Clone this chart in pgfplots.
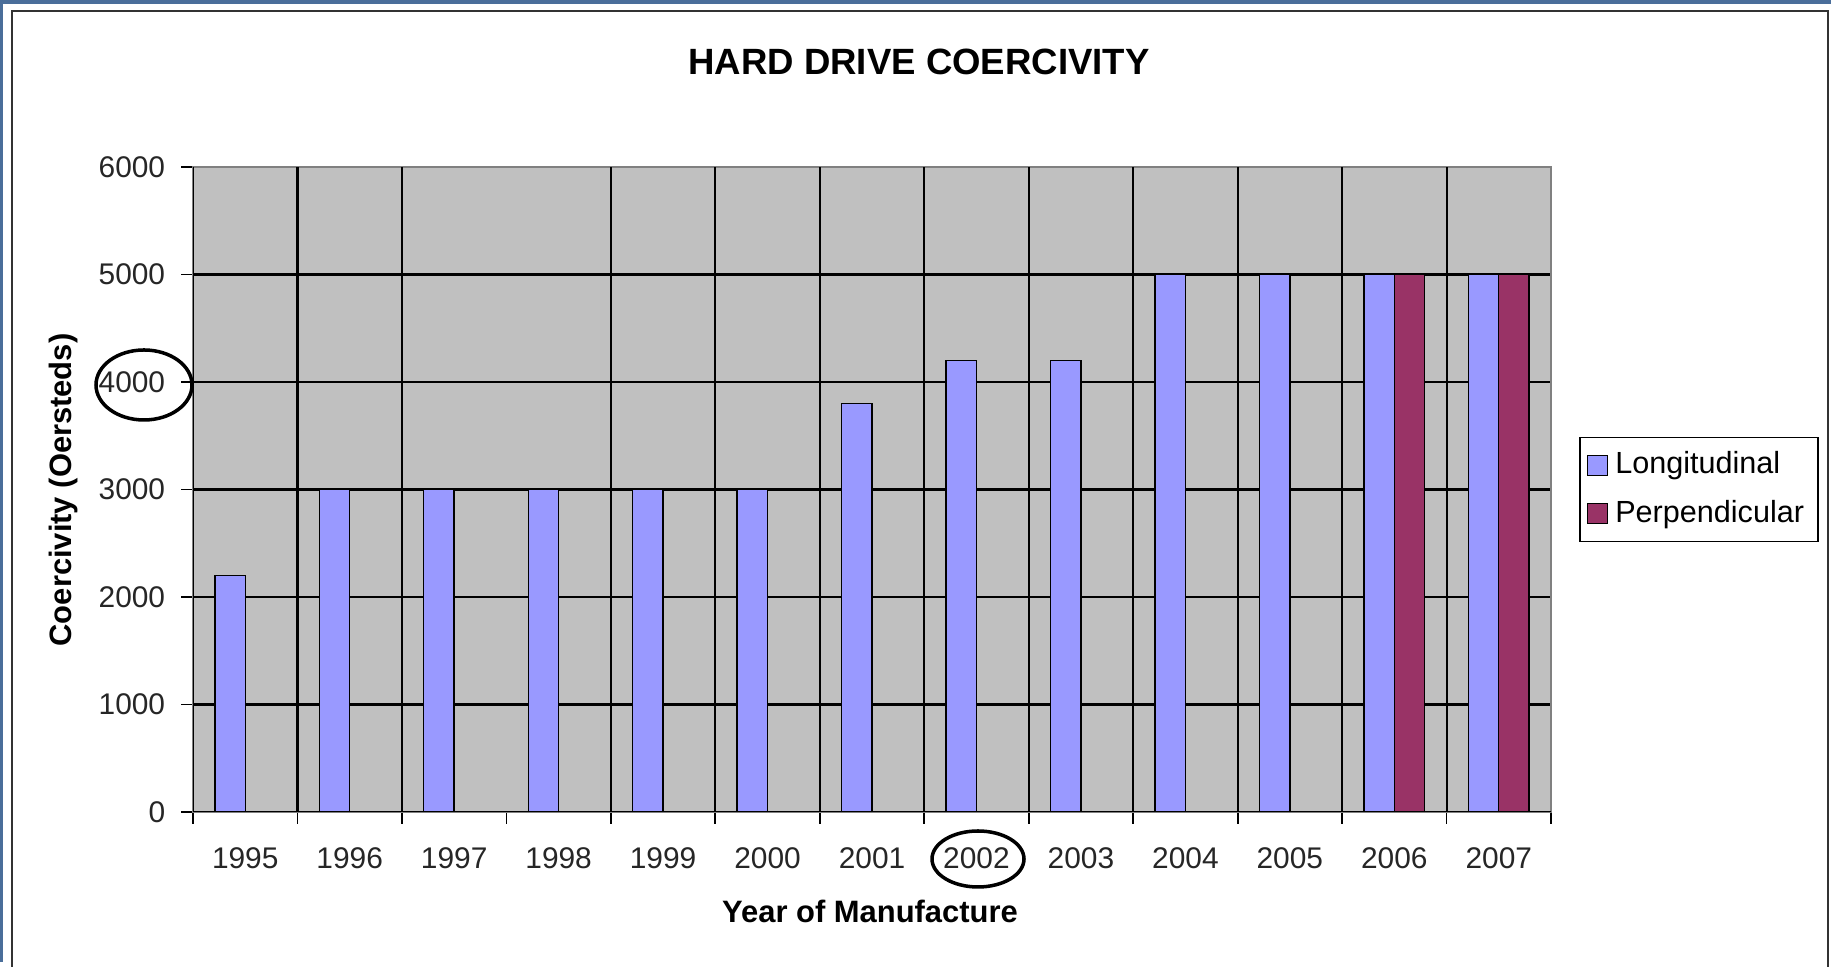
\documentclass[border=0pt]{standalone}
\usepackage{pgfplots}
\pgfplotsset{compat=1.18}
\usepackage{fontspec}
\setmainfont{Liberation Sans}

\definecolor{longi}{HTML}{9999FF}
\definecolor{perp}{HTML}{993366}
\definecolor{plotgray}{HTML}{C0C0C0}
\definecolor{bordergray}{HTML}{808080}
\definecolor{winblue}{HTML}{4A6E9A}

\begin{document}
\begin{tikzpicture}[x=1mm,y=1mm]
  % page and frame
  \fill[winblue] (0,0) rectangle (183.1,96.2);
  \fill[white] (0.3,0) rectangle (183.1,95.8);
  \draw[black!80, line width=0.25mm] (1.2,-0.5) -- (1.2,95.1) -- (182.8,95.1) -- (182.8,-0.5);

  \node[font=\bfseries\fontsize{10.4}{12}\selectfont] at (91.9,90.0) {HARD DRIVE COERCIVITY};

  \begin{axis}[
    at={(19.3mm,15.0mm)}, anchor=south west,
    scale only axis,
    width=135.8mm, height=64.5mm,
    xmin=-0.5, xmax=12.5,
    ymin=0, ymax=6000,
    ybar=0pt, bar width=3.04mm,
    axis background/.style={fill=plotgray},
    axis line style={draw=bordergray, line width=0.5pt},
    xtick pos=bottom, ytick pos=left,
    tick align=outside,
    major tick length=3.4pt,
    minor tick length=3.4pt,
    tick style={black, line width=0.5pt},
    ytick={0,1000,2000,3000,4000,5000,6000},
    ymajorgrids,
    major grid style={black, line width=0.6pt},
    xtick={0,1,2,3,4,5,6,7,8,9,10,11,12},
    xticklabels={1995,1996,1997,1998,1999,2000,2001,2002,2003,2004,2005,2006,2007},
    major x tick style={draw=none},
    minor xtick={-0.5,0.5,1.5,2.5,3.5,4.5,5.5,6.5,7.5,8.5,9.5,10.5,11.5,12.5},
    extra x ticks={0.5,1.5,3.5,4.5,5.5,6.5,7.5,8.5,9.5,10.5,11.5},
    extra x tick labels={},
    extra x tick style={grid=major, major x tick style={draw=none}},
    /pgf/number format/assume math mode=true,
    /pgf/number format/1000 sep={},
    tick label style={font=\fontsize{8.5}{10}\selectfont, text=black!85},
    xticklabel style={yshift=-3.3pt},
    yticklabel style={xshift=-1pt},
    legend style={at={(1.0206,0.5)}, anchor=west, draw=black, line width=0.5pt,
      font=\fontsize{8.7}{10}\selectfont, row sep=2pt, inner xsep=2pt, inner ysep=2pt,
      cells={anchor=west}},
    legend image code/.code={\draw[#1, line width=0.4pt] (0mm,-1mm) rectangle (2mm,1mm);},
  ]
    \addplot[fill=longi, draw=black, line width=0.4pt] coordinates {
      (0,2200) (1,3000) (2,3000) (3,3000) (4,3000) (5,3000) (6,3800)
      (7,4200) (8,4200) (9,5000) (10,5000) (11,5000) (12,5000)};
    \addplot[fill=perp, draw=black, line width=0.4pt] coordinates {
      (11,5000) (12,5000)};
    \legend{Longitudinal, Perpendicular}
    \draw[black, line width=0.6pt] (axis cs:-0.5,6000) -- (axis cs:-0.5,0) -- (axis cs:12.5,0);
  \end{axis}

  \node[font=\bfseries\fontsize{8.8}{10}\selectfont, rotate=90] at (6.4,47.2) {Coercivity (Oersteds)};
  \node[font=\bfseries\fontsize{8.8}{10}\selectfont] at (87.0,5.1) {Year of Manufacture};

  % hand-drawn circles
  \draw[black, line width=1pt] (14.4,57.7) ellipse (4.8 and 3.5);
  \draw[black, line width=1pt] (97.8,10.3) ellipse (4.6 and 2.8);
\end{tikzpicture}
\end{document}
